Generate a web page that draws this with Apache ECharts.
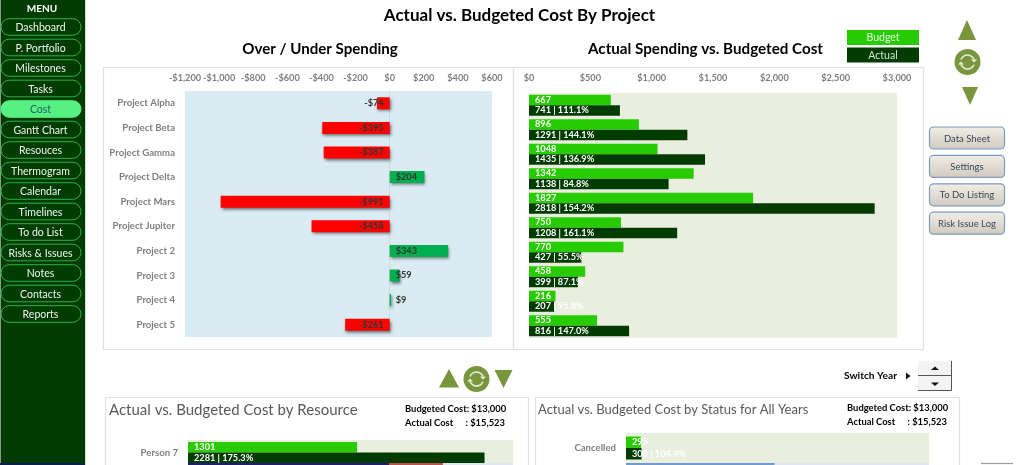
<!DOCTYPE html>
<html>
<head>
<meta charset="utf-8">
<style>html,body{margin:0;padding:0;background:#fff;overflow:hidden}#c{width:1024px;height:465px;filter:blur(0.3px)}</style>
<script src="https://cdn.jsdelivr.net/npm/echarts@6/dist/echarts.min.js"></script>
</head>
<body>
<div id="c"></div>
<script>
const projects = ['Project Alpha','Project Beta','Project Gamma','Project Delta','Project Mars','Project Jupiter','Project 2','Project 3','Project 4','Project 5'];
const overUnder = [-74,-395,-387,204,-991,-458,343,59,9,-261];
const budget = [667,896,1048,1342,1827,750,770,458,216,555];
const actual = [741,1291,1435,1138,2818,1208,427,399,207,816];
const actualPct = ['111.1%','144.1%','136.9%','84.8%','154.2%','161.1%','55.5%','87.1%','95.8%','147.0%'];
const resources = ['Person 7'];
const resourceBudget = [1301];
const resourceActual = [2281];
const resourcePct = ['175.3%'];
const resourceNextBudget = [1546];
const resourceNextActual = [1961];
const statuses = ['Cancelled'];
const statusBudget = [295];
const statusActual = [308];
const statusPct = ['104.4%'];
const statusNextBudget = [2940];
const menuItems = ['Dashboard','P. Portfolio','Milestones','Tasks','Cost','Gantt Chart','Resouces','Thermogram','Calendar','Timelines','To do List','Risks & Issues','Notes','Contacts','Reports'];
const sideButtons = ['Data Sheet','Settings','To Do Listing','Risk Issue Log'];

const FONT = 'Lato';
const GREEN = '#27CC00', DARK = '#003C00', BEIGE = '#EAEEDE', OLIVE = '#7A963D';
const money = v => (v < 0 ? '-$' : '$') + Math.abs(v).toLocaleString('en-US');

const text = (x, y, t, size, o = {}) => ({
  type:'text', x, y, z:10,
  style:{text:t, font:`${o.weight||'bold'} ${size}px ${FONT}`, fill:o.fill||'#000',
    align:o.align||'left', verticalAlign:'middle'}
});
const box = (x, y, w, h, o = {}) => ({
  type:'rect', z:o.z===undefined?-5:o.z, shape:{x, y, width:w, height:h, r:o.r||0},
  style:{fill:o.fill||'none', stroke:o.stroke||null, lineWidth:o.lw||1}
});
const tri = (cx, top, bottom, halfW) => ({
  type:'polygon', z:10, shape:{points:[[cx-halfW,bottom],[cx+halfW,bottom],[cx,top]]}, style:{fill:OLIVE}
});
const refresh = (cx, cy) => [
  {type:'circle', z:10, shape:{cx, cy, r:13}, style:{fill:OLIVE}},
  {type:'arc', z:11, shape:{cx, cy, r:7, startAngle:3.5, endAngle:5.9}, style:{stroke:'#e8eedb', fill:'none', lineWidth:1.6}},
  {type:'arc', z:11, shape:{cx, cy, r:7, startAngle:0.4, endAngle:2.8}, style:{stroke:'#e8eedb', fill:'none', lineWidth:1.6}},
  {type:'polygon', z:11, shape:{points:[[cx+3.5,cy-2.5],[cx+9.5,cy-2.5],[cx+6.5,cy+0.5]]}, style:{fill:'#e8eedb'}},
  {type:'polygon', z:11, shape:{points:[[cx-3.5,cy+2.5],[cx-9.5,cy+2.5],[cx-6.5,cy-0.5]]}, style:{fill:'#e8eedb'}}
];

const graphics = [
  box(0, 0, 85, 465, {fill:DARK, z:-6}),
  box(0, 0, 1, 465, {fill:'#8a9a8a', z:-5}),
  box(85, 0, 1, 465, {fill:'#cfe0cf', z:-5}),
  box(0, 463, 85, 2, {fill:'#0b1f4a', z:-5}),
  text(42, 8.5, 'MENU', 10, {fill:'#fff', align:'center'}),
  box(103.5, 67.5, 820, 282, {stroke:'#e2e2e2', lw:1.2}),
  {type:'line', z:-5, shape:{x1:513.5, y1:67.5, x2:513.5, y2:349.5}, style:{stroke:'#e2e2e2', lineWidth:1.2}},
  box(105.5, 397.5, 423, 80, {stroke:'#e2e2e2', lw:1.2}),
  box(535.5, 397.5, 424, 80, {stroke:'#e2e2e2', lw:1.2}),
  text(519.5, 16, 'Actual vs. Budgeted Cost By Project', 17, {align:'center'}),
  text(320, 49, 'Over / Under Spending', 15.1, {align:'center'}),
  text(705.5, 49, 'Actual Spending vs. Budgeted Cost', 15.2, {align:'center'}),
  box(847, 30, 72, 15, {fill:GREEN, z:5}),
  box(847, 47.5, 72, 15, {fill:DARK, z:5}),
  text(883, 38, 'Budget', 10.5, {fill:'#eafbe4', align:'center', weight:'normal'}),
  text(883, 55.5, 'Actual', 10.5, {fill:'#d5e5d0', align:'center', weight:'normal'}),
  tri(967, 20, 40, 9),
  ...refresh(967.5, 62),
  tri(970, 105, 87, 8),
  tri(449, 369, 387.5, 10),
  ...refresh(476.5, 379),
  tri(503.5, 388, 370, 9),
  text(109, 410, 'Actual vs. Budgeted Cost by Resource', 15, {fill:'#595959', weight:'normal'}),
  text(538, 410, 'Actual vs. Budgeted Cost by Status for All Years', 13, {fill:'#595959', weight:'normal'}),
  text(405, 408.5, 'Budgeted Cost: $13,000', 9.4),
  text(405, 422.5, 'Actual Cost', 9.4),
  text(505, 422.5, ': $15,523', 9.4, {align:'right'}),
  text(847, 408, 'Budgeted Cost: $13,000', 9.4),
  text(847, 422, 'Actual Cost', 9.4),
  text(947, 422, ': $15,523', 9.4, {align:'right'}),
  text(844, 376, 'Switch Year', 10.2),
  {type:'polygon', z:10, shape:{points:[[906,372.5],[906,379.5],[910.5,376]]}, style:{fill:'#111'}},
  box(918, 361, 34, 30, {fill:'#f3f3f3', z:5}),
  {type:'polyline', z:6, shape:{points:[[951.5,361],[951.5,390.5],[918,390.5]]}, style:{stroke:'#555', fill:'none', lineWidth:1}},
  {type:'line', z:6, shape:{x1:918, y1:375.5, x2:952, y2:375.5}, style:{stroke:'#555', lineWidth:1}},
  {type:'polygon', z:6, shape:{points:[[931,370],[939,370],[935,366.5]]}, style:{fill:'#111'}},
  {type:'polygon', z:6, shape:{points:[[931,382.5],[939,382.5],[935,386]]}, style:{fill:'#111'}},
  {type:'line', z:6, shape:{x1:981, y1:463.5, x2:1013, y2:463.5}, style:{stroke:'#9a9a9a', lineWidth:1.2}}
];

menuItems.forEach((m, i) => {
  const cy = 27 + i * 20.5, on = m === 'Cost';
  graphics.push({type:'rect', z:1, shape:{x:1, y:cy-8.3, width:80, height:16.6, r:8.3},
    style:{fill:on ? '#57F082' : DARK, stroke:on ? '#57F082' : '#2FAE4B', lineWidth:1}});
  graphics.push(text(40.5, cy+0.7, m, 10.5, {fill:on ? '#1f5f6e' : '#eef5ee', align:'center', weight:'normal'}));
});
sideButtons.forEach((b, i) => {
  const y = 127 + i * 28.4;
  graphics.push({type:'rect', z:1, shape:{x:929.5, y, width:75, height:22, r:4},
    style:{fill:{type:'linear',x:0,y:0,x2:0,y2:1,colorStops:[{offset:0,color:'#F2EFE8'},{offset:1,color:'#CFCABE'}]}, stroke:'#7E9BBD', lineWidth:1.2}});
  graphics.push(text(967, y+11.5, b, 9.5, {fill:'#3c4658', align:'center', weight:'normal'}));
});

const tick = {color:'#7F7F7F', fontFamily:FONT, fontWeight:'bold', fontSize:9.2};
const grids = [
  {left:185, top:91, width:307, height:246},
  {left:529, top:93, width:368, height:245},
  {left:188, top:440, width:325, height:25},
  {left:626, top:433, width:303, height:30},
  {left:188, top:463, width:325, height:10, z:3},
  {left:626, top:463, width:303, height:10, z:3}
].map((g, i) => Object.assign(g, {show:true, borderWidth:0,
  backgroundColor:[ '#DAEBF3', BEIGE, BEIGE, BEIGE, '#DCE6F2', '#DCE6F2'][i]}));

const hiddenX = (gridIndex, max) => ({type:'value', gridIndex, min:0, max, show:false, splitLine:{show:false}});
const hiddenY = (gridIndex, data) => ({type:'category', gridIndex, data, inverse:true, axisLine:{show:false}, axisTick:{show:false}, axisLabel:{show:false}});
const catY = (gridIndex, data, margin) => ({type:'category', gridIndex, data, inverse:true, axisLine:{show:false}, axisTick:{show:false},
  axisLabel:{margin, color:'#7F7F7F', fontFamily:FONT, fontWeight:'bold', fontSize:9.6}});
const topAxis = (gridIndex, min, max, interval, margin) => ({type:'value', gridIndex, position:'top', min, max, interval,
  splitLine:{show:false}, axisLine:{show:false}, axisTick:{show:false},
  axisLabel:Object.assign({}, tick, {margin, formatter:money, showMinLabel:true, showMaxLabel:true, hideOverlap:false})});

const bars = (name, idx, data, color, labels, width) => ({
  name, type:'bar', xAxisIndex:idx, yAxisIndex:idx, data, barWidth:width, barGap:0,
  itemStyle:{color}, z:3,
  label:{show:true, position:'insideLeft', distance:6, color:'#fff', fontFamily:FONT, fontWeight:'bold', fontSize:9.2,
    textBorderWidth:0, formatter:p => labels[p.dataIndex]}
});

const option = {
  animation:false,
  backgroundColor:'#fff',
  graphic:{elements:graphics},
  grid:grids,
  xAxis:[
    topAxis(0, -1200, 600, 200, 8),
    topAxis(1, 0, 3000, 500, 10),
    hiddenX(2, 2500), hiddenX(3, 6000), hiddenX(4, 2500), hiddenX(5, 6000)
  ],
  yAxis:[
    Object.assign(catY(0, projects, 10), {axisLine:{show:true, onZero:true, lineStyle:{color:'#cfd8dc', width:1}}}),
    hiddenY(1, projects),
    catY(2, resources, 10),
    catY(3, statuses, 10),
    hiddenY(4, resources),
    hiddenY(5, statuses)
  ],
  series:[
    {name:'Over / Under', type:'bar', xAxisIndex:0, yAxisIndex:0, barWidth:12, z:3,
      data:overUnder.map(v => ({value:v,
        itemStyle:{color:v < 0 ? '#FF0000' : '#00B050', shadowColor:'rgba(0,0,0,0.55)', shadowBlur:3, shadowOffsetX:1, shadowOffsetY:2},
        label:{position:v < 0 ? 'insideRight' : 'insideLeft'}})),
      label:{show:true, distance:6, color:'#333333', textBorderWidth:0, textBorderColor:'transparent', fontFamily:FONT, fontWeight:'bold', fontSize:9.2,
        formatter:p => money(p.value)}},
    bars('Budget', 1, budget, GREEN, budget.map(String), 10.5),
    bars('Actual', 1, actual, DARK, actual.map((v,i) => `${v} | ${actualPct[i]}`), 10.5),
    bars('Budget', 2, resourceBudget, GREEN, resourceBudget.map(String), 10.5),
    bars('Actual', 2, resourceActual, DARK, resourceActual.map((v,i) => `${v} | ${resourcePct[i]}`), 10.5),
    bars('Budget', 3, statusBudget, GREEN, statusBudget.map(String), 11.5),
    bars('Actual', 3, statusActual, DARK, statusActual.map((v,i) => `${v} | ${statusPct[i]}`), 11.5),
    {type:'bar', xAxisIndex:4, yAxisIndex:4, barWidth:10, barGap:'-100%', z:4, data:resourceNextActual, itemStyle:{color:'#C0504D'}},
    {type:'bar', xAxisIndex:4, yAxisIndex:4, barWidth:10, barGap:'-100%', z:5, data:resourceNextBudget, itemStyle:{color:'#1F1F6B'}},
    {type:'bar', xAxisIndex:5, yAxisIndex:5, barWidth:10, z:4, data:statusNextBudget, itemStyle:{color:'#6F9BD1'}}
  ]
};
const chart = echarts.init(document.getElementById('c'), null, {renderer:'canvas', width:1024, height:465});
chart.setOption(option);
</script>
</body>
</html>
